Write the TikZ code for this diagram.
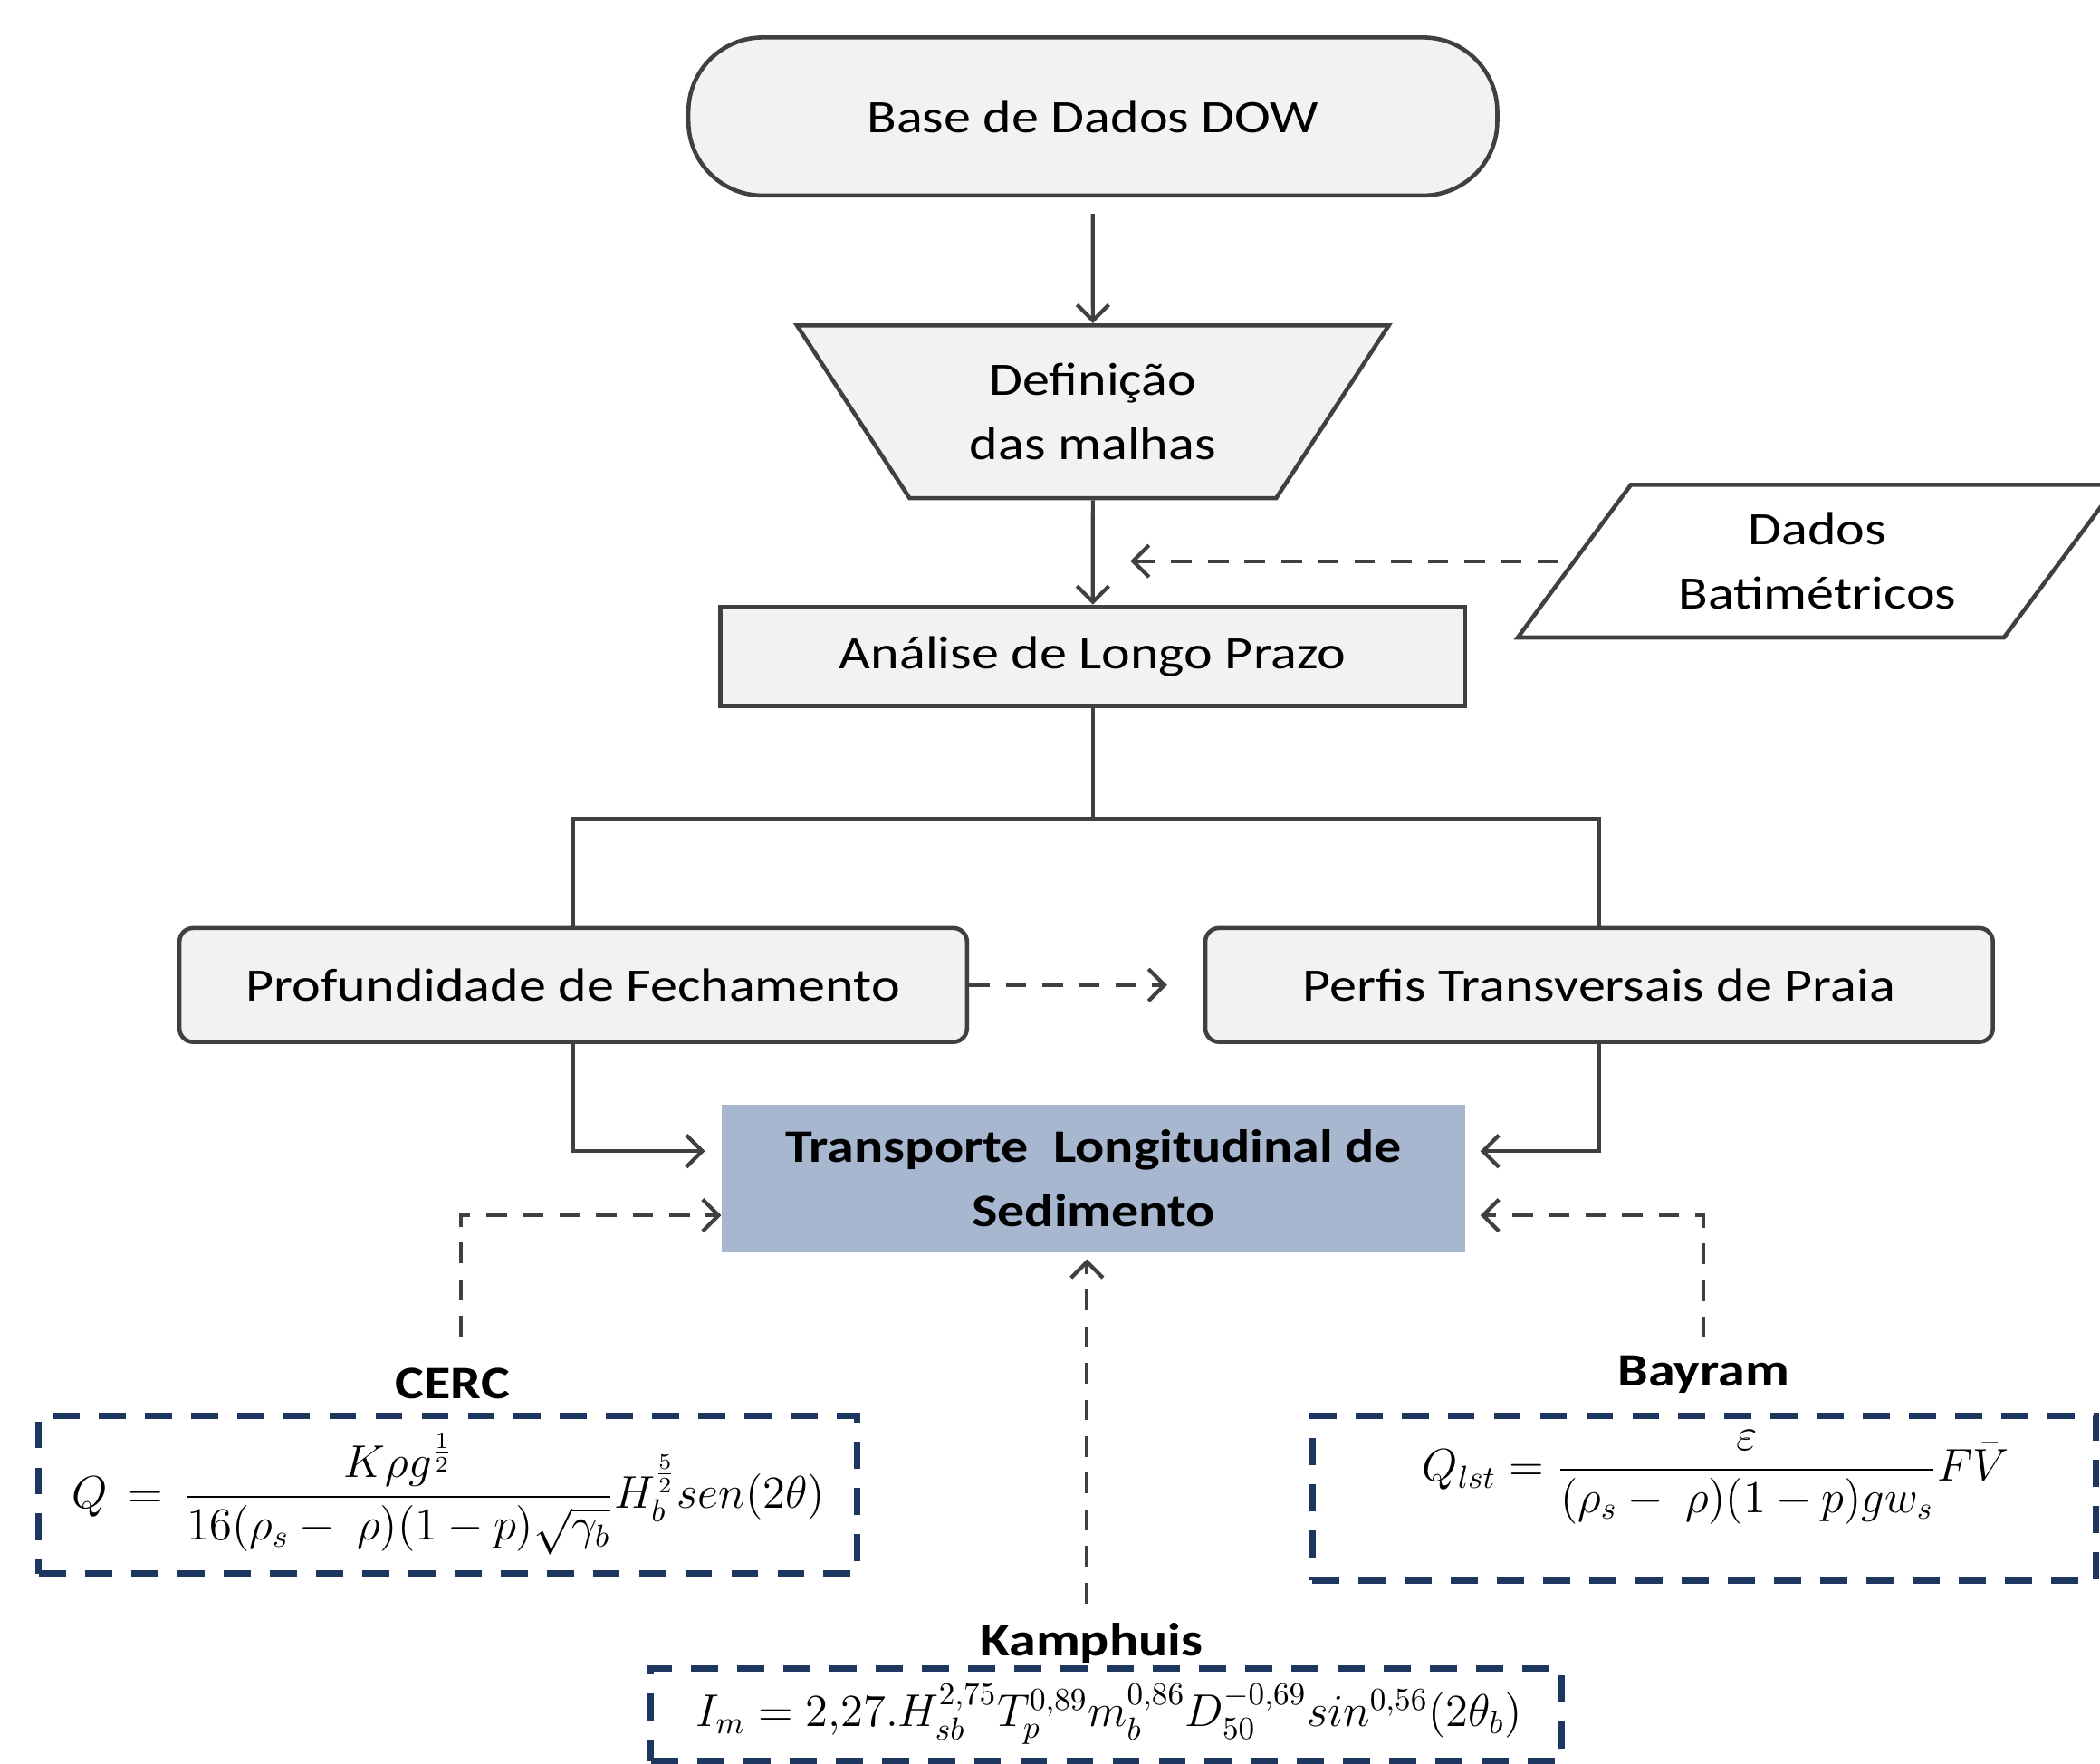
\documentclass[tikz,border=0pt]{standalone}
\usepackage{amsmath}
\usepackage[no-math]{fontspec}
\setmainfont{Carlito}[FakeStretch=1.17]
\usetikzlibrary{arrows.meta,shapes.geometric,calc}
\newcommand{\pxu}{0.01479cm}
\definecolor{lineg}{HTML}{404040}
\definecolor{boxg}{HTML}{F2F2F2}
\definecolor{tblue}{HTML}{A6B7CF}
\definecolor{navy}{HTML}{1D3760}
\tikzset{
 txt/.style={font=\fontsize{14.6}{20.2}\selectfont, align=center, text=black},
 boxline/.style={draw=lineg, line width=1.3pt, fill=boxg},
 conn/.style={draw=lineg, line width=1.2pt, -{Straight Barb[length=5pt,width=10pt,line width=1.2pt]}},
 dconn/.style={conn, dash pattern=on 6.5pt off 5pt},
 fbox/.style={draw=navy, line width=2pt, dash pattern=on 8.5pt off 6pt, inner sep=0},
 blab/.style={font=\fontsize{14.6}{20.2}\selectfont\bfseries, text=black},
 eq/.style={font=\fontsize{14}{16}\selectfont, inner sep=0},
}
\begin{document}
\begin{tikzpicture}[x=0.01479cm, y=-0.01479cm]
\useasboundingbox (0,0) rectangle (1568,1317);
% main nodes
\node[txt, boxline, rounded corners=0.82cm, minimum width=604*\pxu, minimum height=118*\pxu, inner sep=0] (dow) at (816,87) {Base de Dados DOW};
\node[txt, boxline, trapezium, shape border rotate=180, trapezium left angle=52, trapezium right angle=52, trapezium stretches, minimum width=442*\pxu, minimum height=129*\pxu, inner sep=0] (def) at (816,307.5) {Definição\\das malhas};
\node[txt, trapezium, draw=lineg, line width=1.3pt, fill=white, trapezium left angle=49, trapezium right angle=131, trapezium stretches, minimum width=448*\pxu, minimum height=114*\pxu, inner sep=0] (bat) at (1357,419) {Dados\\Batimétricos};
\node[txt, boxline, minimum width=556*\pxu, minimum height=74*\pxu, inner sep=0] (ana) at (816,490) {Análise de Longo Prazo};
\node[txt, boxline, rounded corners=0.15cm, minimum width=588*\pxu, minimum height=85*\pxu, inner sep=0] (prof) at (428,735.5) {Profundidade de Fechamento};
\node[txt, boxline, rounded corners=0.15cm, minimum width=588*\pxu, minimum height=85*\pxu, inner sep=0] (perf) at (1194,735.5) {Perfis Transversais de Praia};
\node[blab, align=center, fill=tblue, minimum width=555*\pxu, minimum height=110*\pxu, inner sep=0] (trans) at (816.5,880) {Transporte\ \ Longitudinal de\\Sedimento};
% labels
\node[blab, anchor=base] (cercl) at (338,1044) {CERC};
\node[blab, anchor=base] (bayl) at (1272,1035) {Bayram};
\node[blab, anchor=base] (kampl) at (815,1236) {Kamphuis};
% formula boxes
\node[fbox, minimum width=611*\pxu, minimum height=118*\pxu] (cercb) at (334.5,1116) {};
\node[eq] (cerceq) at (335,1116) {$Q\,=\,\dfrac{K\rho g^{\frac{1}{2}}}{16(\rho_s-\ \rho)(1-p)\sqrt{\gamma_b}}H_b^{\frac{5}{2}}sen(2\theta)$};
\node[fbox, minimum width=585*\pxu, minimum height=123*\pxu] (bayb) at (1272.5,1118.5) {};
\node[eq] (bayeq) at (1281,1103) {$Q_{lst}=\dfrac{\varepsilon}{(\rho_s-\ \rho)(1-p)gw_s}F\bar{V}$};
\node[fbox, minimum width=680*\pxu, minimum height=69*\pxu] (kampb) at (826,1280.5) {};
\node[eq, font=\fontsize{14.4}{16}\selectfont] (kampeq) at (828,1280) {$I_m=2{,}27.H_{sb}^{2{,}75}T_p^{0{,}89}m_b^{0{,}86}D_{50}^{-0{,}69}sin^{0{,}56}(2\theta_b)$};
% connectors
\draw[conn, shorten <=0.18cm] (dow.south) -- (def.north);
\draw[conn] (def.south) -- (ana.north);
\draw[dconn, shorten <=0.15cm] (bat.west) -- ($(bat.west -| ana.north)+(28,0)$);
\draw[lineg, line width=1.2pt] (ana.south) -- ++(0,83) coordinate (split) -| (prof.north);
\draw[lineg, line width=1.2pt] (split) -| (perf.north);
\draw[dconn, shorten >=0.4cm] (prof.east) -- (perf.west);
\draw[conn, shorten >=0.18cm] (prof.south) |- ($(trans.north west)+(0,35)$);
\draw[conn, shorten >=0.16cm] (perf.south) |- ($(trans.north east)+(0,35)$);
\draw[dconn, shorten <=0.22cm] ([xshift=0.09cm]cercl.north) |- ($(trans.south west)+(0,-28)$);
\draw[dconn, shorten <=0.08cm, shorten >=0.16cm] (bayl.north) |- ($(trans.south east)+(0,-28)$);
\draw[dconn, shorten <=0.09cm, shorten >=0.07cm] ([xshift=-0.05cm]kampl.north) -- ([xshift=-0.05cm]kampl.north |- trans.south);
\end{tikzpicture}
\end{document}
